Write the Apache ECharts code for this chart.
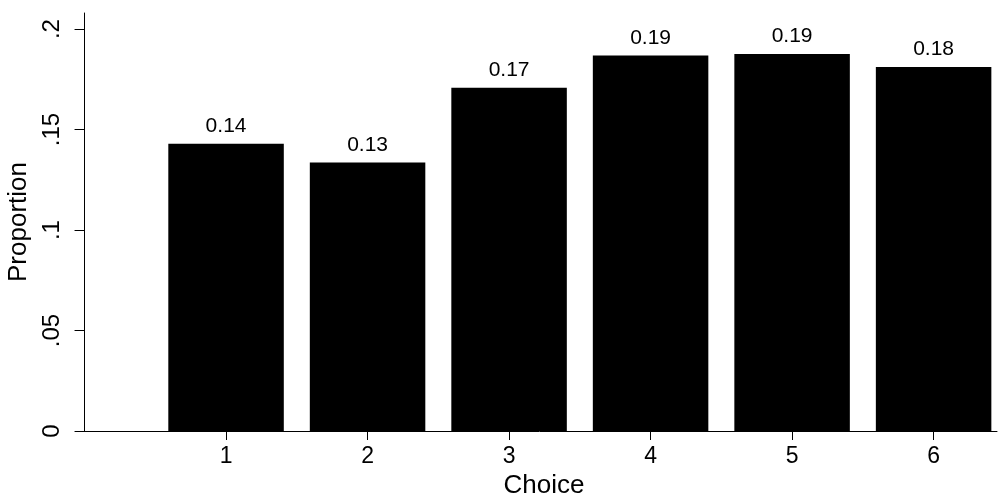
<!DOCTYPE html>
<html>
<head>
<meta charset="utf-8">
<script src="https://cdn.jsdelivr.net/npm/echarts@6/dist/echarts.min.js"></script>
<style>
html,body{margin:0;padding:0;background:#fff;}
#chart{width:998px;height:497px;}
</style>
</head>
<body>
<div id="chart"></div>
<script>
var choices = [1, 2, 3, 4, 5, 6];
var proportions = [0.1429, 0.1336, 0.1708, 0.1868, 0.1876, 0.1811];
var yTickValues = [0, 0.05, 0.1, 0.15, 0.2];
var yTickLabels = ['0', '.05', '.1', '.15', '.2'];
var xTickValues = [1, 2, 3, 4, 5, 6];
var xTitle = 'Choice';
var yTitle = 'Proportion';

var FONT = '"Liberation Sans", Arial, Helvetica, sans-serif';
var chart = echarts.init(document.getElementById('chart'), null, {renderer: 'canvas'});

var barData = choices.map(function (c, i) { return [c, proportions[i]]; });

chart.setOption({
  animation: false,
  backgroundColor: '#ffffff',
  grid: {left: 82, right: 1, top: 13, bottom: 66, containLabel: false, outerBoundsMode: 'none'},
  xAxis: {
    type: 'value',
    min: -0.018,
    max: 6.448,
    name: xTitle,
    nameLocation: 'middle',
    nameGap: 40,
    nameTextStyle: {fontFamily: FONT, fontSize: 26, color: '#000', padding: [0, 0, 0, 9]},
    axisLine: {show: true, onZero: false, lineStyle: {color: '#000', width: 1}},
    axisTick: {show: true, length: 9, customValues: xTickValues, lineStyle: {color: '#000', width: 1}},
    axisLabel: {customValues: xTickValues, fontFamily: FONT, fontSize: 23, color: '#000', margin: 14},
    splitLine: {show: false}
  },
  yAxis: {
    type: 'value',
    min: 0,
    max: 0.208,
    name: yTitle,
    nameLocation: 'middle',
    nameGap: 46,
    nameTextStyle: {fontFamily: FONT, fontSize: 26, color: '#000'},
    axisLine: {show: true, lineStyle: {color: '#000', width: 1}},
    axisTick: {show: true, length: 10, customValues: yTickValues, lineStyle: {color: '#000', width: 1}},
    axisLabel: {
      customValues: yTickValues,
      rotate: 90,
      fontFamily: FONT, fontSize: 24, color: '#000', margin: 18,
      formatter: function (v) {
        var idx = yTickValues.findIndex(function (t) { return Math.abs(t - v) < 1e-9; });
        return idx >= 0 ? yTickLabels[idx] : '';
      }
    },
    splitLine: {show: false}
  },
  series: [{
    type: 'bar',
    data: barData,
    barWidth: 115.5,
    itemStyle: {color: '#000'},
    label: {
      show: true,
      position: 'top',
      distance: 7,
      fontFamily: FONT,
      fontSize: 21,
      color: '#000',
      formatter: function (p) { return p.value[1].toFixed(2); }
    }
  }]
});
</script>
</body>
</html>
